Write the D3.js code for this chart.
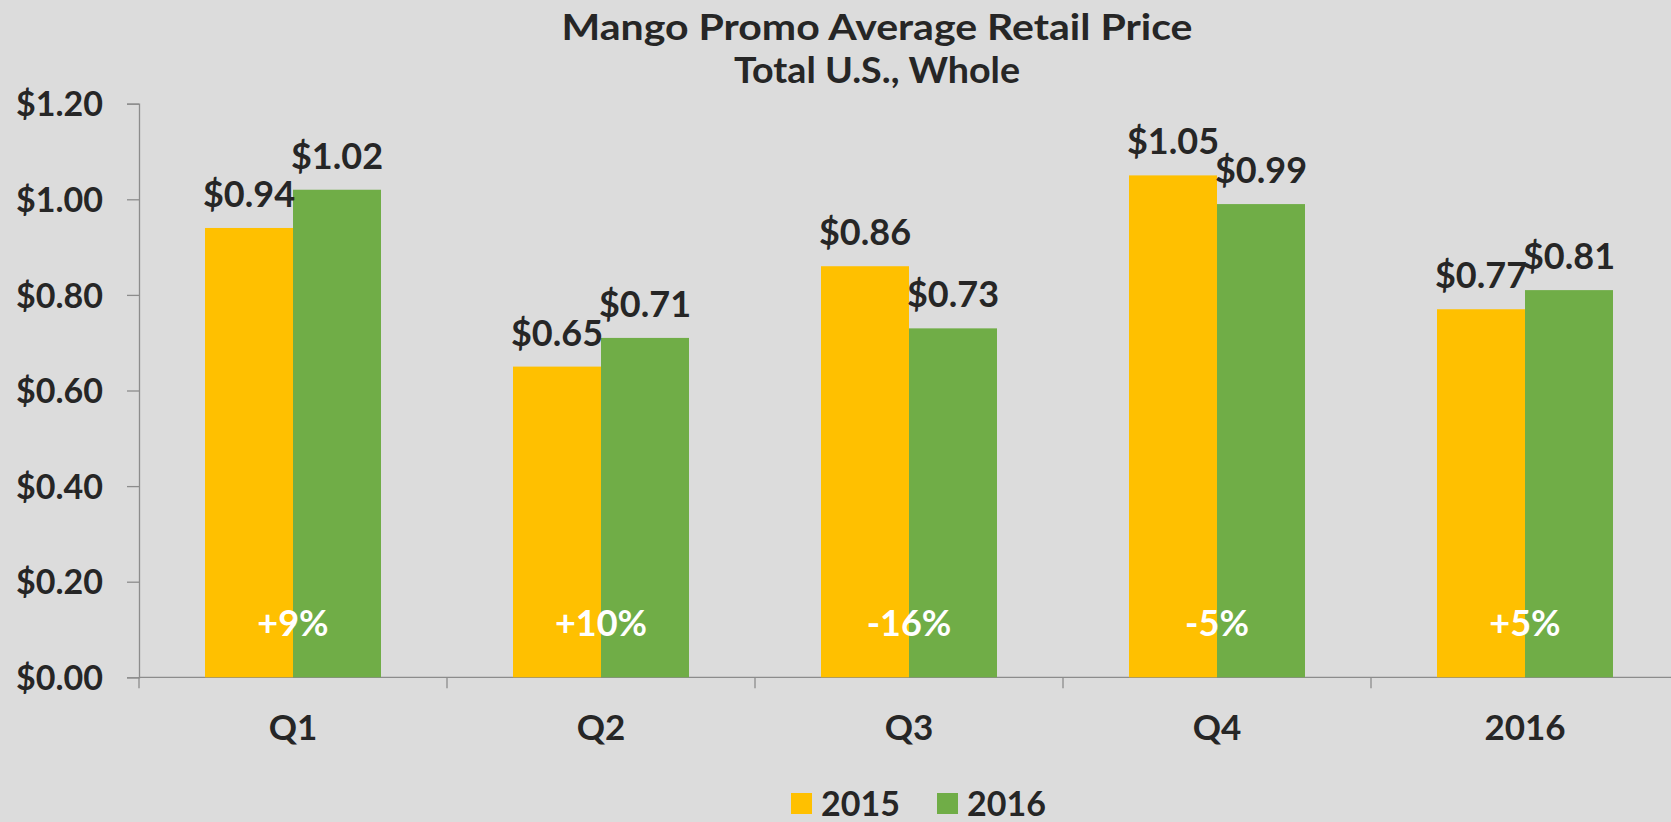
<!DOCTYPE html>
<html>
<head>
<meta charset="utf-8">
<script src="https://cdn.jsdelivr.net/npm/d3@7"></script>
<style>
    html, body { margin: 0; padding: 0; background: #dcdcdc; }
    svg { display: block; }
    text { font-family: Lato, "Open Sans", sans-serif; font-weight: 700; }
</style>
</head>
<body>
<div id="chart"></div>
<script>
// chart data
const categories = ["Q1", "Q2", "Q3", "Q4", "2016"];
const series_names = ["2015", "2016"];
const values_2015 = [0.94, 0.65, 0.86, 1.05, 0.77];
const values_2016 = [1.02, 0.71, 0.73, 0.99, 0.81];
const change_labels = ["+9%", "+10%", "-16%", "-5%", "+5%"];
const y_ticks = [0, 0.2, 0.4, 0.6, 0.8, 1.0, 1.2];
const title_lines = ["Mango Promo Average Retail Price", "Total U.S., Whole"];
const title_widths = [631, 286];  // the original font is wider than Lato, stretch to fit

const colors = {"2015": "#ffc000", "2016": "#70ad47"};
const text_color = "#262626";
const axis_color = "#8c8c8c";

const width = 1671;
const height = 822;

const svg = d3.select("#chart")
    .append("svg")
        .attr("width", width)
        .attr("height", height);

svg.append("rect")
    .attr("width", width)
    .attr("height", height)
    .attr("fill", "#dcdcdc");

// scales
const y = d3.scaleLinear()
    .domain([0, 1.2])
    .range([677.3, 103.7]);

const x = d3.scaleBand()
    .domain(categories)
    .range([139, 139 + 308 * categories.length])
    .paddingInner(0)
    .paddingOuter(0);

const group_width = 176;
const x_inner = d3.scaleBand()
    .domain(series_names)
    .range([0, group_width]);
const group_offset = (x.bandwidth() - group_width) / 2;

const rows = categories.map((c, i) => ({
    category: c,
    values: [
        {series: "2015", value: values_2015[i]},
        {series: "2016", value: values_2016[i]}
    ],
    change: change_labels[i]
}));

// title
svg.append("g")
    .selectAll("text")
        .data(title_lines)
    .enter()
        .append("text")
        .attr("x", 877)
        .attr("y", (d, i) => 40 + i * 43.3)
        .attr("text-anchor", "middle")
        .attr("fill", text_color)
        .attr("textLength", (d, i) => title_widths[i])
        .attr("lengthAdjust", "spacingAndGlyphs")
        .style("font-size", "37px")
        .text((d) => d);

// y axis
const y_axis = svg.append("g")
    .attr("transform", "translate(139,0)")
    .call(d3.axisLeft(y)
        .tickValues(y_ticks)
        .tickSize(12)
        .tickPadding(24)
        .tickFormat((d) => "$" + d3.format(".2f")(d)));
y_axis.select(".domain").attr("stroke", axis_color).attr("stroke-width", 1.3);
y_axis.selectAll(".tick line").attr("stroke", axis_color).attr("stroke-width", 1.3);
y_axis.selectAll(".tick text")
    .attr("fill", text_color)
    .style("font-size", "34px")
    .attr("dy", "0.36em");

// x axis line + ticks between categories
const x_axis = svg.append("g");
x_axis.append("line")
    .attr("x1", 139)
    .attr("x2", width)
    .attr("y1", y(0))
    .attr("y2", y(0))
    .attr("stroke", axis_color)
    .attr("stroke-width", 1.3);
x_axis.selectAll(".x_tick")
        .data(categories)
    .enter()
        .append("line")
        .attr("class", "x_tick")
        .attr("x1", (d) => x(d))
        .attr("x2", (d) => x(d))
        .attr("y1", y(0))
        .attr("y2", y(0) + 11)
        .attr("stroke", axis_color)
        .attr("stroke-width", 1.3);
x_axis.selectAll(".x_label")
        .data(categories)
    .enter()
        .append("text")
        .attr("class", "x_label")
        .attr("x", (d) => x(d) + x.bandwidth() / 2)
        .attr("y", 740)
        .attr("text-anchor", "middle")
        .attr("fill", text_color)
        .style("font-size", "35px")
        .text((d) => d);

// bars
const groups = svg.append("g")
    .selectAll("g")
        .data(rows)
    .enter()
        .append("g")
        .attr("transform", (d) => `translate(${x(d.category) + group_offset},0)`);

groups.selectAll("rect")
        .data((d) => d.values)
    .enter()
        .append("rect")
        .attr("x", (d) => x_inner(d.series))
        .attr("y", (d) => y(d.value))
        .attr("width", x_inner.bandwidth())
        .attr("height", (d) => y(0) - y(d.value))
        .attr("fill", (d) => colors[d.series]);

// value labels above bars
groups.selectAll(".value_label")
        .data((d) => d.values)
    .enter()
        .append("text")
        .attr("class", "value_label")
        .attr("x", (d) => x_inner(d.series) + x_inner.bandwidth() / 2)
        .attr("y", (d) => y(d.value) - 21)
        .attr("text-anchor", "middle")
        .attr("fill", text_color)
        .style("font-size", "36px")
        .text((d) => "$" + d3.format(".2f")(d.value));

// change labels inside bars
groups.append("text")
    .attr("x", group_width / 2)
    .attr("y", 636)
    .attr("text-anchor", "middle")
    .attr("fill", "#ffffff")
    .style("font-size", "36px")
    .text((d) => d.change);

// legend
const legend = svg.append("g")
    .selectAll("g")
        .data(series_names)
    .enter()
        .append("g")
        .attr("transform", (d, i) => `translate(${791 + i * 146},0)`);
legend.append("rect")
    .attr("x", 0)
    .attr("y", 793)
    .attr("width", 21)
    .attr("height", 21)
    .attr("fill", (d) => colors[d]);
legend.append("text")
    .attr("x", 30)
    .attr("y", 816)
    .attr("fill", text_color)
    .style("font-size", "34px")
    .text((d) => d);
</script>
</body>
</html>
